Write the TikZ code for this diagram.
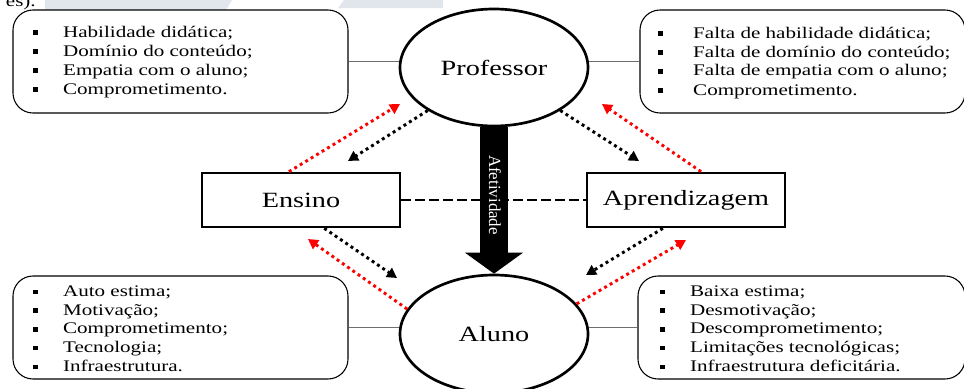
\documentclass[tikz,border=0pt]{standalone}
\usepackage{fontspec}
\setmainfont{Liberation Serif}[FakeStretch=1.3]
\newfontfamily\plainserif{Liberation Serif}
\usetikzlibrary{shapes.geometric,arrows.meta,calc}
\definecolor{wm}{RGB}{225,230,237}
\definecolor{linkgray}{RGB}{110,110,110}
\newcommand\sqbul{\rule[1.7pt]{3.5pt}{3.5pt}}
\newcommand\lstfont{\fontsize{12.15pt}{14.25pt}\selectfont}
\newcommand\lstfontb{\fontsize{12.15pt}{14.06pt}\selectfont}
\newcommand\bigfont{\fontsize{16.3pt}{18pt}\selectfont}
\begin{document}
\begin{tikzpicture}[x=0.75pt,y=-0.75pt,
  infobox/.style={draw, line width=0.8pt, rounded corners=15pt, fill=white, inner sep=0},
  oval/.style={ellipse, draw, line width=2pt, fill=white, minimum width=141pt, inner sep=0, font=\bigfont},
  stage/.style={rectangle, draw, line width=2pt, fill=white, minimum width=148.5pt, minimum height=40.5pt, inner sep=0, font=\bigfont},
  blackdot/.style={line width=2.2pt, dash pattern=on 2.2pt off 2.6pt, -{Triangle[length=7.5pt,width=8pt]}},
  reddot/.style={blackdot, red},
  link/.style={linkgray, line width=0.7pt},
  listtext/.style={anchor=base west, inner sep=0}
]
\useasboundingbox (0,0) rectangle (964,389);
% faint background shapes
\fill[wm] (45,0) -- (232,0) -- (226,10) -- (45,10) -- cycle;
\fill[wm] (344,0) -- (443,0) -- (443,8) -- (338,8) -- cycle;
\node[anchor=base east, inner sep=0, font=\lstfont] (cut) at (36,6.5) {es).};

% information boxes
\node[infobox, minimum width=251.25pt, minimum height=77.25pt] (tl) at (180.5,61.5) {};
\node[infobox, minimum width=243.75pt, minimum height=77.25pt] (tr) at (802.5,61.5) {};
\node[infobox, minimum width=251.25pt, minimum height=77.25pt] (bl) at (180.5,327.5) {};
\node[infobox, minimum width=245.25pt, minimum height=77.25pt] (br) at (801.5,327.5) {};

\node[listtext] (tlt) at (32.6,37.3) {\lstfont\begin{tabular}[t]{@{}l@{\hspace{19.2pt}}l@{}}
\sqbul & Habilidade didática;\\
\sqbul & Domínio do conteúdo;\\
\sqbul & Empatia com o aluno;\\
\sqbul & Comprometimento.
\end{tabular}};
\node[listtext] (trt) at (657.6,38) {\lstfont\begin{tabular}[t]{@{}l@{\hspace{23pt}}l@{}}
\sqbul & Falta de habilidade didática;\\
\sqbul & Falta de domínio do conteúdo;\\
\sqbul & Falta de empatia com o aluno;\\
\sqbul & Comprometimento.
\end{tabular}};
\node[listtext] (blt) at (32.6,296.5) {\lstfontb\begin{tabular}[t]{@{}l@{\hspace{19.2pt}}l@{}}
\sqbul & Auto estima;\\
\sqbul & Motivação;\\
\sqbul & Comprometimento;\\
\sqbul & Tecnologia;\\
\sqbul & Infraestrutura.
\end{tabular}};
\node[listtext] (brt) at (659.6,296.5) {\lstfontb\begin{tabular}[t]{@{}l@{\hspace{19.2pt}}l@{}}
\sqbul & Baixa estima;\\
\sqbul & Desmotivação;\\
\sqbul & Descomprometimento;\\
\sqbul & Limitações tecnológicas;\\
\sqbul & Infraestrutura deficitária.
\end{tabular}};

% main nodes
\node[oval, minimum height=87.75pt] (prof) at (494,67.5) {Professor};
\node[oval, minimum height=88.5pt] (alu) at (494,334) {Aluno};
\node[stage] (ens) at (301,200) {Ensino};
\node[stage] (apr) at (686,200) {Aprendizagem};

% thin links
\draw[link] (tl.east) -- (tl.east -| prof.west);
\draw[link] (tr.west) -- (tr.west -| prof.east);
\draw[link] (bl.east) -- (bl.east -| alu.west);
\draw[link] (br.west) -- (br.west -| alu.east);

% dashed link
\draw[line width=1.6pt, dash pattern=on 7pt off 3.5pt] (ens.east) -- (apr.west);

% free arrow ends
\coordinate (r1t) at (400,104);
\coordinate (b1t) at (348,161);
\coordinate (b2t) at (639,161);
\coordinate (r2t) at (602,104);
\coordinate (b3t) at (397,278);
\coordinate (r3t) at (308,239);
\coordinate (b4t) at (586,275);
\coordinate (r4t) at (686,240);

\draw[reddot] ($(ens.north west)!0.44!(ens.north east)$) -- (r1t);
\draw[blackdot] (prof.213) -- (b1t);
\draw[blackdot] (prof.327) -- (b2t);
\draw[reddot] ($(apr.north west)!0.575!(apr.north east)$) -- (r2t);
\draw[blackdot] ($(ens.south west)!0.616!(ens.south east)$) -- (b3t);
\draw[reddot] (alu.164) -- (r3t);
\draw[blackdot] ($(apr.south west)!0.385!(apr.south east)$) -- (b4t);
\draw[reddot] (alu.20) -- (r4t);

% affectivity arrow
\draw[line width=21pt, -{Triangle[length=15.75pt,width=42.75pt]}] (prof.south) -- (alu.north);
\node[rotate=-90, text=white, inner sep=0, font=\plainserif\fontsize{12.7pt}{14pt}\selectfont] (afet) at (495,195) {Afetividade};
\end{tikzpicture}
\end{document}
